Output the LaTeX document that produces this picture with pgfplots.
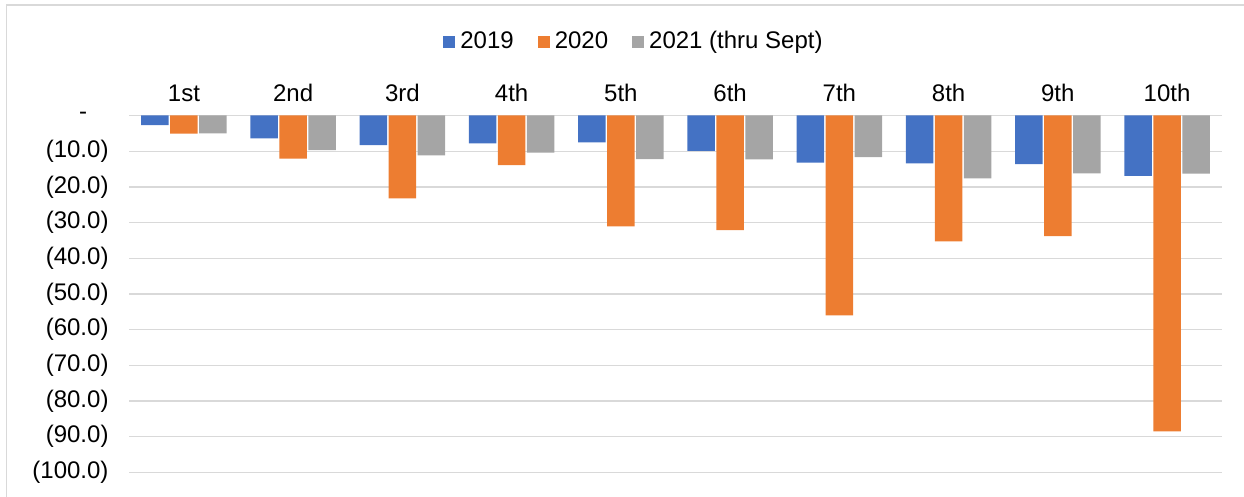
\documentclass[border=0pt]{standalone}
\usepackage{fontspec}
\setmainfont{Liberation Sans}
\usepackage{pgfplots}
\pgfplotsset{compat=1.18}
\definecolor{cA}{HTML}{4472C4}
\definecolor{cB}{HTML}{ED7D31}
\definecolor{cC}{HTML}{A5A5A5}
\definecolor{gridc}{HTML}{D9D9D9}
\begin{document}
\fontsize{24}{28}\selectfont
\begin{tikzpicture}
\useasboundingbox (0pt,0pt) rectangle (1244pt,-497pt);
\draw[gridc, line width=1.3pt] (6.7pt,-520pt) -- (6.7pt,-5pt) -- (1270pt,-5pt);
\begin{axis}[
  at={(129.3pt,-472.3pt)}, anchor=south west,
  scale only axis, width=1092.4pt, height=356.8pt,
  xmin=-0.5, xmax=9.5, ymin=-100, ymax=0,
  ybar=1.5pt, bar width=27.5pt,
  xtick={0,...,9},
  xticklabels={1st,2nd,3rd,4th,5th,6th,7th,8th,9th,10th},
  xticklabel pos=top,
  ytick={-100,-90,-80,-70,-60,-50,-40,-30,-20,-10,0},
  yticklabels={(100.0),(90.0),(80.0),(70.0),(60.0),(50.0),(40.0),(30.0),(20.0),(10.0),{-\hphantom{0)}}},
  axis line style={draw=none},
  major tick length=0pt,
  ymajorgrids, grid style={line width=1.3pt, color=gridc},
  tick label style={font=\fontsize{24}{28}\selectfont, text=black},
  yticklabel style={anchor=east, inner sep=0pt, xshift=-20.6pt},
  xticklabel style={anchor=base, inner sep=0pt, yshift=13.8pt},
  legend style={at={(0.462,1.206)}, anchor=center, draw=none, fill=none,
    font=\fontsize{24}{28}\selectfont, legend columns=3,
    /tikz/every odd column/.append style={column sep=3pt},
    /tikz/every even column/.append style={column sep=22pt}},
  legend image code/.code={\fill[#1] (0pt,-6pt) rectangle (12pt,6pt);},
]
\addplot[fill=cA, draw=none] coordinates {(0,-2.7) (1,-6.4) (2,-8.3) (3,-7.8) (4,-7.5) (5,-9.9) (6,-13.2) (7,-13.4) (8,-13.6) (9,-16.9)};
\addplot[fill=cB, draw=none] coordinates {(0,-5.1) (1,-12.1) (2,-23.2) (3,-13.9) (4,-31.1) (5,-32.1) (6,-56.0) (7,-35.3) (8,-33.8) (9,-88.5)};
\addplot[fill=cC, draw=none] coordinates {(0,-5.0) (1,-9.7) (2,-11.2) (3,-10.4) (4,-12.2) (5,-12.3) (6,-11.7) (7,-17.6) (8,-16.2) (9,-16.3)};
\legend{2019,2020,2021 (thru Sept)}
\end{axis}
\end{tikzpicture}
\end{document}
